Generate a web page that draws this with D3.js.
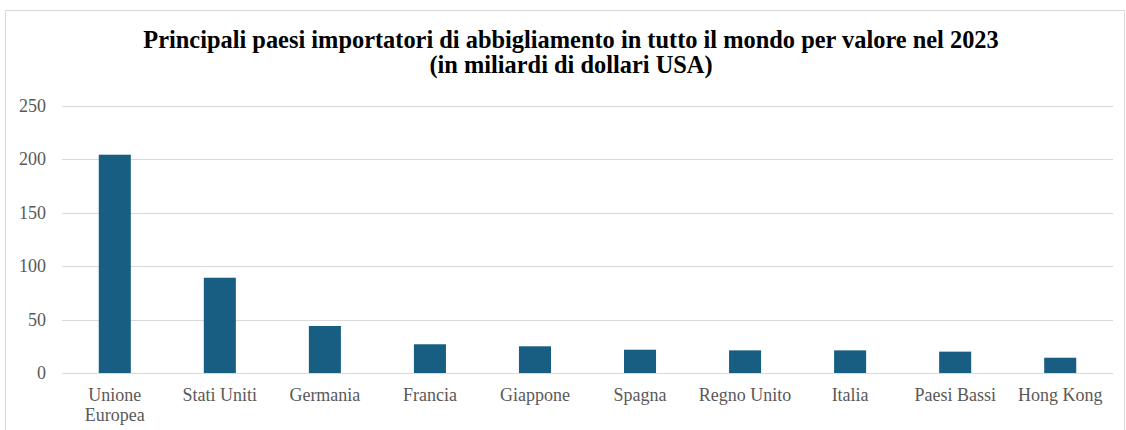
<!DOCTYPE html>
<html>
<head>
<meta charset="utf-8">
<script src="https://cdn.jsdelivr.net/npm/d3@7"></script>
<style>
  body { margin: 0; background: #fff; }
  svg { display: block; font-family: "Liberation Serif", "Times New Roman", serif; }
</style>
</head>
<body>
<div id="chart"></div>
<script>
// data
var countries = ["Unione Europea", "Stati Uniti", "Germania", "Francia", "Giappone",
                 "Spagna", "Regno Unito", "Italia", "Paesi Bassi", "Hong Kong"];
var values = [204.4, 89.2, 44, 26.9, 25.0, 21.8, 21.2, 21.2, 20.0, 14.3];
var yTicks = [0, 50, 100, 150, 200, 250];
var titleLines = ["Principali paesi importatori di abbigliamento in tutto il mondo per valore nel 2023",
                  "(in miliardi di dollari USA)"];

var width = 1126, height = 430;
var margin = {left: 62, right: 13, top: 106, bottom: 57};

var svg = d3.select("#chart").append("svg")
  .attr("width", width)
  .attr("height", height);

// chart frame
svg.append("rect")
  .attr("x", 5.5).attr("y", 10.5)
  .attr("width", 1119).attr("height", 440)
  .attr("fill", "none")
  .attr("stroke", "#d9d9d9");

// title
svg.append("text")
  .attr("x", 571).attr("y", 48)
  .attr("text-anchor", "middle")
  .attr("font-weight", "bold")
  .attr("font-size", "24.4px")
  .attr("fill", "#000")
  .selectAll("tspan")
  .data(titleLines).enter().append("tspan")
  .attr("x", 571)
  .attr("dy", function(d, i) { return i ? 25 : 0; })
  .text(function(d) { return d; });

var x = d3.scaleBand()
  .domain(countries)
  .range([margin.left, width - margin.right])
  .paddingInner(0.695)
  .paddingOuter(0.35);

var y = d3.scaleLinear()
  .domain([0, 250])
  .range([height - margin.bottom, margin.top]);

// gridlines
svg.append("g")
  .selectAll("line")
  .data(yTicks).enter().append("line")
  .attr("x1", margin.left).attr("x2", width - margin.right)
  .attr("y1", function(d) { return Math.round(y(d)) + 0.5; })
  .attr("y2", function(d) { return Math.round(y(d)) + 0.5; })
  .attr("stroke", "#d9d9d9")
  .attr("stroke-width", 1);

// y labels
svg.append("g")
  .selectAll("text")
  .data(yTicks).enter().append("text")
  .attr("x", 46)
  .attr("y", function(d) { return y(d) + 6; })
  .attr("text-anchor", "end")
  .attr("font-size", "18px")
  .attr("fill", "#595959")
  .text(function(d) { return d; });

// bars
svg.append("g")
  .selectAll("rect")
  .data(values).enter().append("rect")
  .attr("x", function(d, i) { return x(countries[i]); })
  .attr("y", function(d) { return y(d); })
  .attr("width", x.bandwidth())
  .attr("height", function(d) { return y(0) - y(d); })
  .attr("fill", "#175e82");

// x labels (wrap "Unione Europea")
var labelLines = countries.map(function(c) {
  return c === "Unione Europea" ? ["Unione", "Europea"] : [c];
});
svg.append("g")
  .selectAll("text")
  .data(countries).enter().append("text")
  .attr("x", function(d) { return x(d) + x.bandwidth() / 2; })
  .attr("y", 401)
  .attr("text-anchor", "middle")
  .attr("font-size", "18px")
  .attr("fill", "#595959")
  .each(function(d, i) {
    var t = d3.select(this);
    labelLines[i].forEach(function(line, j) {
      t.append("tspan")
        .attr("x", x(d) + x.bandwidth() / 2)
        .attr("dy", j ? 19.5 : 0)
        .text(line);
    });
  });
</script>
</body>
</html>
